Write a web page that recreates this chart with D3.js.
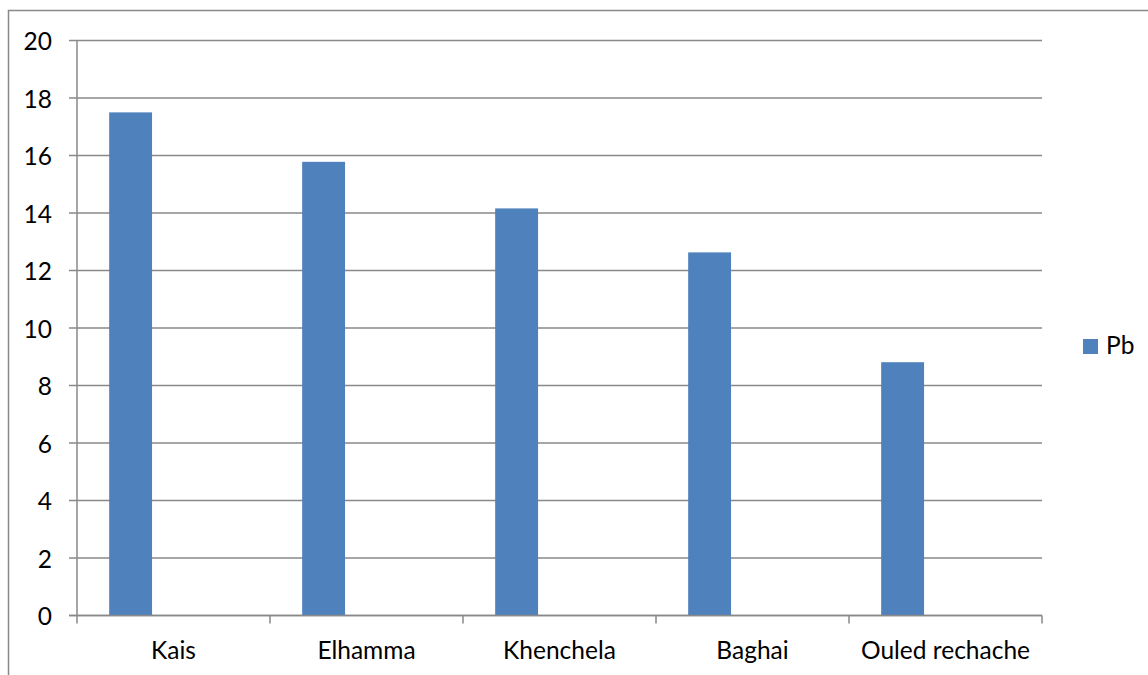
<!DOCTYPE html>
<html>
<head>
<meta charset="utf-8">
<script src="https://cdnjs.cloudflare.com/ajax/libs/d3/7.8.5/d3.min.js"></script>
<style>
  html, body { margin: 0; padding: 0; background: #fff; }
  svg { display: block; font-family: Lato, "Open Sans", sans-serif; }
</style>
</head>
<body>
<svg id="chart" width="1148" height="675"></svg>
<script>
// Lead (Pb) by site
const categories = ["Kais", "Elhamma", "Khenchela", "Baghai", "Ouled rechache"];
const pbValues = [17.5, 15.78, 14.16, 12.63, 8.81];
const yTicks = [0, 2, 4, 6, 8, 10, 12, 14, 16, 18, 20];
const seriesName = "Pb";

const svg = d3.select("#chart");
const W = 1148, H = 675;
const plot = { left: 77, right: 1042, top: 40.5, bottom: 615.5 };
const gridColor = "#898989";
const barColor = "#4f81bd";
const fontSize = 24.5;

// outer chart frame (runs past the right and bottom edges)
svg.append("rect")
  .attr("x", 8.5).attr("y", 10.5)
  .attr("width", W + 10).attr("height", H + 10)
  .attr("fill", "none").attr("stroke", gridColor).attr("stroke-width", 1.5);

const x = d3.scaleBand().domain(categories).range([plot.left, plot.right]).padding(0);
const y = d3.scaleLinear().domain([0, 20]).range([plot.bottom, plot.top]);

// horizontal gridlines with short left ticks
svg.append("g").selectAll("line")
  .data(yTicks)
  .join("line")
  .attr("x1", plot.left - 8).attr("x2", plot.right)
  .attr("y1", d => y(d)).attr("y2", d => y(d))
  .attr("stroke", gridColor).attr("stroke-width", 1.5);

// y axis line
svg.append("line")
  .attr("x1", plot.left).attr("x2", plot.left)
  .attr("y1", plot.top).attr("y2", plot.bottom)
  .attr("stroke", gridColor).attr("stroke-width", 1.5);

// y tick labels
svg.append("g").selectAll("text")
  .data(yTicks)
  .join("text")
  .attr("x", 52).attr("y", d => y(d))
  .attr("text-anchor", "end").attr("dominant-baseline", "central")
  .attr("font-size", fontSize).attr("fill", "#000")
  .text(d => d);

// bars: each category holds three series slots with a 150% gap; Pb fills the first slot
const barW = x.bandwidth() / 4.5;
svg.append("g").selectAll("rect")
  .data(categories.map((c, i) => ({ c, v: pbValues[i] })))
  .join("rect")
  .attr("x", d => x(d.c) + barW * 0.75)
  .attr("width", barW)
  .attr("y", d => y(d.v))
  .attr("height", d => y(0) - y(d.v))
  .attr("fill", barColor);

// x axis with category boundary ticks
svg.append("line")
  .attr("x1", plot.left - 8).attr("x2", plot.right)
  .attr("y1", plot.bottom).attr("y2", plot.bottom)
  .attr("stroke", gridColor).attr("stroke-width", 1.5);

const boundaries = categories.map(c => x(c)).concat([plot.right]);
svg.append("g").selectAll("line")
  .data(boundaries)
  .join("line")
  .attr("x1", d => d).attr("x2", d => d)
  .attr("y1", plot.bottom).attr("y2", plot.bottom + 8)
  .attr("stroke", gridColor).attr("stroke-width", 1.5);

svg.append("g").selectAll("text")
  .data(categories)
  .join("text")
  .attr("x", d => x(d) + x.bandwidth() / 2)
  .attr("y", 659)
  .attr("text-anchor", "middle")
  .attr("font-size", fontSize).attr("fill", "#000")
  .text(d => d);

// legend
const legend = svg.append("g");
legend.append("rect")
  .attr("x", 1083).attr("y", 339).attr("width", 15).attr("height", 15)
  .attr("fill", barColor);
legend.append("text")
  .attr("x", 1106).attr("y", 354)
  .attr("font-size", fontSize).attr("fill", "#000")
  .text(seriesName);
</script>
</body>
</html>
